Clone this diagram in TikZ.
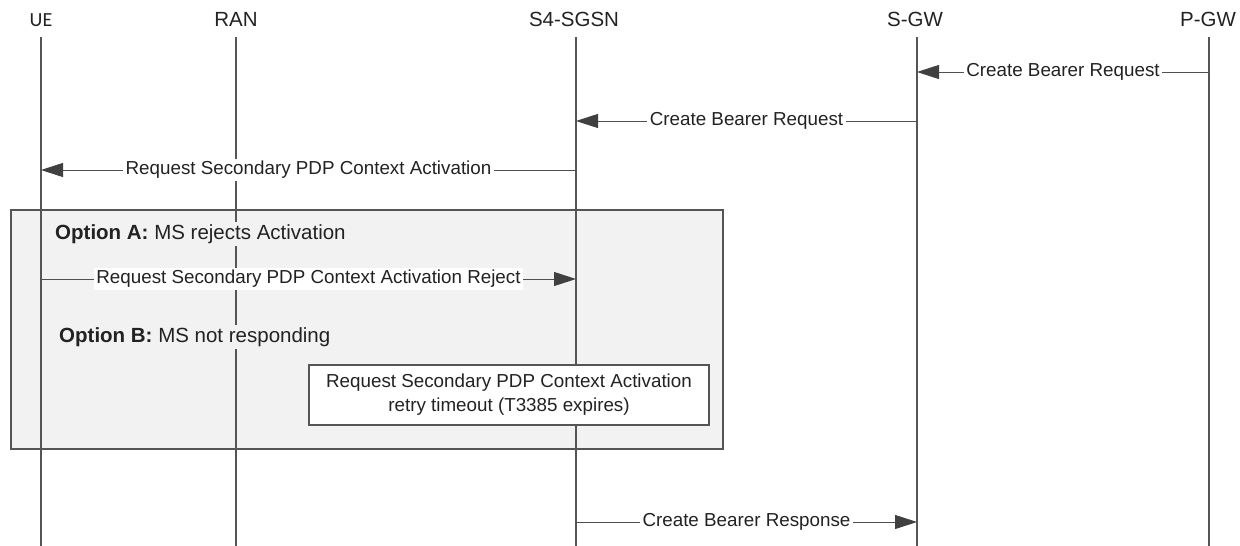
\documentclass[tikz,border=0pt]{standalone}
\usepackage{fontspec}
\setmainfont{Liberation Sans}
\newfontfamily\calfont{Carlito}
\usetikzlibrary{arrows.meta}
\definecolor{lifec}{HTML}{555555}
\definecolor{msgc}{HTML}{505050}
\definecolor{arrc}{HTML}{404040}
\definecolor{boxc}{HTML}{555555}
\definecolor{boxfill}{HTML}{F2F2F2}
\definecolor{txtc}{HTML}{222222}
\begin{document}
\begin{tikzpicture}[x=1pt,y=-1pt,
  lifeline/.style={draw=lifec, line width=1.3pt},
  msg/.style={draw=msgc, line width=1pt, -{Triangle[length=22pt,width=14pt,color=arrc,fill=arrc]}},
  lbl/.style={fill=white, inner sep=2.5pt, text=txtc, font=\fontsize{18.8}{22}\selectfont},
  head/.style={anchor=base, inner sep=0pt, text=txtc, font=\fontsize{20.5}{24}\selectfont},
  opt/.style={anchor=west, fill=boxfill, inner sep=2pt, text=txtc, font=\fontsize{20.5}{24}\selectfont},
  tbox/.style={draw=boxc, line width=1.3pt, fill=white, minimum width=400pt, minimum height=60pt, align=center, text=txtc, font=\fontsize{18.8}{24}\selectfont},
  optbox/.style={draw=boxc, line width=1.5pt, fill=boxfill, minimum width=712pt, minimum height=239pt, anchor=north west, inner sep=0pt}
]
\useasboundingbox (0,0) rectangle (1240,546);

% option frame
\node[optbox] (frame) at (10,209) {};

% headers
\node[head, font=\calfont\fontsize{20}{24}\selectfont] (ue) at (41,27) {UE};
\node[head] (ran) at (236,27) {RAN};
\node[head] (sgsn) at (574,27) {S4-SGSN};
\node[head] (sgw) at (915,27) {S-GW};
\node[head] (pgw) at (1208,27) {P-GW};

% lifeline ends
\coordinate (ue-t) at (41,37);   \coordinate (ue-b) at (41,546);
\coordinate (ran-t) at (236,37); \coordinate (ran-b) at (236,546);
\coordinate (sg-t) at (576,37);  \coordinate (sg-b) at (576,546);
\coordinate (sw-t) at (917,37);  \coordinate (sw-b) at (917,546);
\coordinate (pg-t) at (1209,37); \coordinate (pg-b) at (1209,546);

\draw[lifeline] (ue-t) -- (ue-b);
\draw[lifeline] (ran-t) -- (ran-b);
\draw[lifeline] (sg-t) -- (sg-b);
\draw[lifeline] (sw-t) -- (sw-b);
\draw[lifeline] (pg-t) -- (pg-b);

% message points
\coordinate (m1a) at (1209,72); \coordinate (m1b) at (917,72);
\coordinate (m2a) at (917,121); \coordinate (m2b) at (576,121);
\coordinate (m3a) at (576,170); \coordinate (m3b) at (41,170);
\coordinate (m4a) at (41,279);  \coordinate (m4b) at (576,279);
\coordinate (m5a) at (576,522); \coordinate (m5b) at (917,522);

\draw[msg] (m1a) -- node[lbl] (l1) {Create Bearer Request} (m1b);
\draw[msg] (m2a) -- node[lbl] (l2) {Create Bearer Request} (m2b);
\draw[msg] (m3a) -- node[lbl] (l3) {Request Secondary PDP Context Activation} (m3b);
\draw[msg] (m4a) -- node[lbl] (l4) {Request Secondary PDP Context Activation Reject} (m4b);
\draw[msg] (m5a) -- node[lbl] (l5) {Create Bearer Response} (m5b);

% option texts
\node[opt] (optA) at (53,234) {\textbf{Option A:} MS rejects Activation};
\node[opt] (optB) at (57,337) {\textbf{Option B:} MS not responding};

% timeout box
\node[tbox] (timeout) at (509,395) {Request Secondary PDP Context Activation\\retry timeout (T3385 expires)};
\end{tikzpicture}
\end{document}
